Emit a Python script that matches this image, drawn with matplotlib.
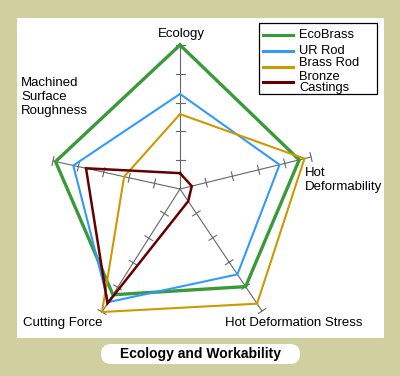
import numpy as np
import matplotlib.pyplot as plt
from matplotlib.patches import Rectangle, FancyBboxPatch

plt.rcParams['font.family'] = ['Liberation Sans', 'DejaVu Sans']

# axes of the radar, clockwise from the top
axes_names = ['Ecology', 'Hot Deformability', 'Hot Deformation Stress',
              'Cutting Force', 'Machined Surface Roughness']

# scores (0-5) for each material, same order as axes_names
ecobrass = [5.0, 4.55, 4.0, 4.3, 4.9]
ur_rod = [3.3, 3.8, 3.5, 4.6, 4.2]
brass_rod = [2.6, 4.75, 4.7, 5.0, 2.2]
bronze = [0.55, 0.45, 0.5, 4.65, 3.7]

series_names = ['EcoBrass', 'UR Rod', 'Brass Rod', 'Bronze\nCastings']
series_colors = ['#3a9a3a', '#3399ff', '#cc9900', '#660000']
series_widths = [2.4, 1.5, 1.5, 1.8]

max_score = 5

# layout: chart drawn in pixel units, y pointing down
center = np.array([180.0, 189.0])
# direction of each spoke for a full score (pixels)
spokes = np.array([[0, -144], [131, -32], [82, 122], [-78, 123], [-127, -28]], float)

fig = plt.figure(figsize=(4, 3.76), dpi=100, facecolor='#d0cfa0')
ax = fig.add_axes([0, 0, 1, 1])
ax.set_xlim(0, 400)
ax.set_ylim(376, 0)
ax.axis('off')

ax.add_patch(Rectangle((17, 18), 367, 320, facecolor='white', edgecolor='none'))

# spokes with cross ticks
for vec in spokes:
    end = center + vec
    ax.plot([center[0], end[0]], [center[1], end[1]], color='#666666', lw=0.8)
    unit = vec / np.linalg.norm(vec)
    perp = np.array([-unit[1], unit[0]]) * 4.5
    for k in range(1, max_score + 1):
        p = center + vec * k / max_score
        ax.plot([p[0] - perp[0], p[0] + perp[0]], [p[1] - perp[1], p[1] + perp[1]],
                color='#666666', lw=0.8)


def to_xy(scores):
    s = np.array(scores + scores[:1]) / max_score
    v = np.vstack([spokes, spokes[:1]])
    pts = center + v * s[:, None]
    return pts[:, 0], pts[:, 1]


for vals, c, w in zip([ecobrass, ur_rod, brass_rod, bronze], series_colors, series_widths):
    x, y = to_xy(vals)
    ax.plot(x, y, color=c, lw=w, solid_joinstyle='miter')

# axis labels
fs = 9.5
ax.text(181, 34, 'Ecology', ha='center', va='center', fontsize=fs)
ax.text(305, 180, 'Hot\nDeformability', ha='left', va='center', fontsize=fs, linespacing=1.25)
ax.text(225, 323, 'Hot Deformation Stress', ha='left', va='center', fontsize=fs)
ax.text(23, 323, 'Cutting Force', ha='left', va='center', fontsize=fs)
ax.text(21, 97, 'Machined\nSurface\nRoughness', ha='left', va='center', fontsize=fs, linespacing=1.25)

# legend
ax.add_patch(Rectangle((259, 23), 118, 71, facecolor='white', edgecolor='black', lw=0.9))
line_y = [35, 51, 66.5, 81.5]
text_y = [35, 51, 63.5, 82.5]
for name, c, yy, ty in zip(series_names, series_colors, line_y, text_y):
    ax.plot([263, 293], [yy, yy], color=c, lw=2.2)
    ax.text(299, ty, name, ha='left', va='center', fontsize=9.3, linespacing=0.92)

# title pill
ax.add_patch(FancyBboxPatch((101, 344), 199, 20, boxstyle='round,pad=0,rounding_size=10',
                            facecolor='white', edgecolor='none'))
ax.text(200, 354, 'Ecology and Workability', ha='center', va='center',
        fontsize=10, fontweight='bold')

fig.savefig('out.png', dpi=100, facecolor=fig.get_facecolor())
